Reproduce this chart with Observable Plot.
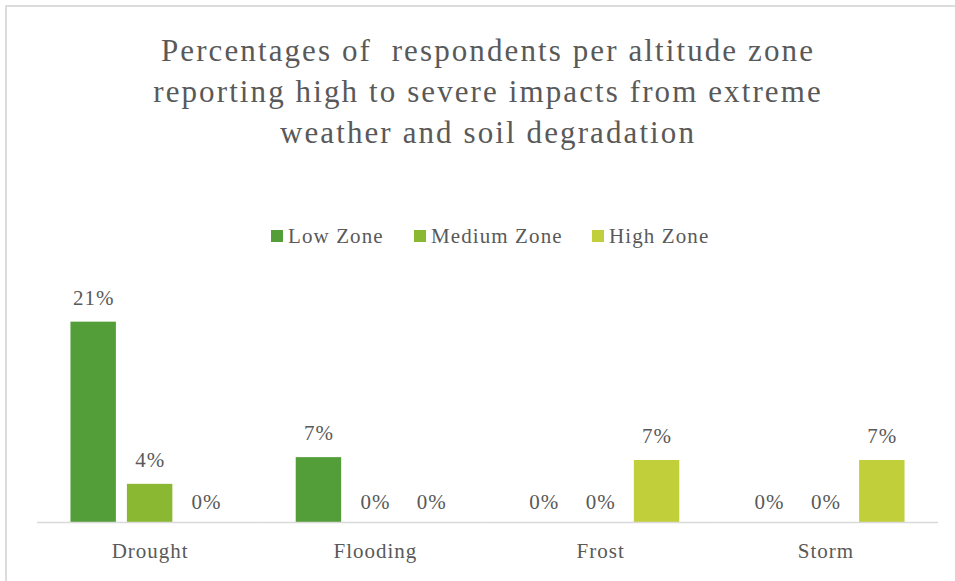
<!DOCTYPE html>
<html>
<head>
<meta charset="utf-8">
<script src="https://cdn.jsdelivr.net/npm/d3@7"></script>
<script src="https://cdn.jsdelivr.net/npm/@observablehq/plot@0.6"></script>
<style>
  html, body { margin: 0; padding: 0; background: #ffffff; }
  body { width: 955px; height: 581px; position: relative; overflow: hidden;
         font-family: "Liberation Serif", "DejaVu Serif", serif; color: #595959; }
  #frame { position: absolute; left: 5px; top: 5px; width: 1200px; height: 1200px;
           border-left: 2px solid #dcdcdc; border-top: 2px solid #dcdcdc; }
  #title { position: absolute; left: 0; top: 30px; width: 976px; text-align: center;
           font-size: 31px; line-height: 41px; letter-spacing: 2.1px; color: #595959; }
  .legend-item { position: absolute; top: 224px; display: flex; align-items: center;
                 font-size: 21px; line-height: 24px; letter-spacing: 1.1px;
                 color: #595959; white-space: nowrap; }
  .legend-item .swatch { width: 12px; height: 12px; margin-right: 5px; flex: none; }
  #chart { position: absolute; left: 0; top: 260px; }
</style>
</head>
<body>
<div id="frame"></div>
<div id="title">Percentages of&nbsp; respondents per altitude zone<br>reporting high to severe impacts from extreme<br>weather and soil degradation</div>
<div id="legend"></div>
<div id="chart"></div>
<script>
// Hazard categories along the bottom axis
const categories = ["Drought", "Flooding", "Frost", "Storm"];
// Altitude zones (one bar per zone in each category)
const zones = ["Low Zone", "Medium Zone", "High Zone"];
// Share of respondents (%) reporting high to severe impacts, per zone
const lowZone = [21, 6.8, 0, 0];
const mediumZone = [4, 0, 0, 0];
const highZone = [0, 0, 6.5, 6.5];
const zoneColors = ["#549E39", "#8AB833", "#C0CF3A"];

const series = [lowZone, mediumZone, highZone];
const rows = [];
categories.forEach((category, i) => {
  zones.forEach((zone, j) => {
    rows.push({category, zone, value: series[j][i]});
  });
});

// Legend
const legendLeft = [271, 414, 592];
const legend = document.getElementById("legend");
zones.forEach((zone, j) => {
  const item = document.createElement("div");
  item.className = "legend-item";
  item.style.left = legendLeft[j] + "px";
  const sw = document.createElement("span");
  sw.className = "swatch";
  sw.style.background = zoneColors[j];
  item.appendChild(sw);
  item.appendChild(document.createTextNode(zone));
  legend.appendChild(item);
});

const pct = d => Math.round(d.value) + "%";
const labelOptions = {fx: "category", x: "zone", y: "value", text: pct, fill: "#595959", fontSize: 21};

const chart = Plot.plot({
  width: 955,
  height: 321,
  marginLeft: 37,
  marginRight: 17,
  marginTop: 23.5,
  marginBottom: 59,
  fx: {domain: categories, padding: 0, round: false, label: null},
  x: {domain: zones, paddingInner: 0.195, paddingOuter: 0.593, round: false, axis: null},
  y: {domain: [0, 25], axis: null},
  color: {domain: zones, range: zoneColors},
  style: {
    fontFamily: "'Liberation Serif', 'DejaVu Serif', serif",
    fontSize: "21px",
    letterSpacing: "1px",
    color: "#595959",
    background: "transparent",
    overflow: "visible"
  },
  marks: [
    Plot.barY(rows, {fx: "category", x: "zone", y: "value", fill: "zone"}),
    Plot.ruleY([0], {stroke: "#d9d9d9", strokeWidth: 1.5}),
    // value labels above the bars; empty bars get their label a little lower
    Plot.text(rows.filter(d => d.value > 0), {...labelOptions, dy: -24}),
    Plot.text(rows.filter(d => d.value === 0), {...labelOptions, dy: -20}),
    Plot.axisFx({anchor: "bottom", tickSize: 0, tickPadding: 21, fontSize: 21, fill: "#595959", label: null})
  ]
});
document.getElementById("chart").appendChild(chart);
</script>
</body>
</html>
